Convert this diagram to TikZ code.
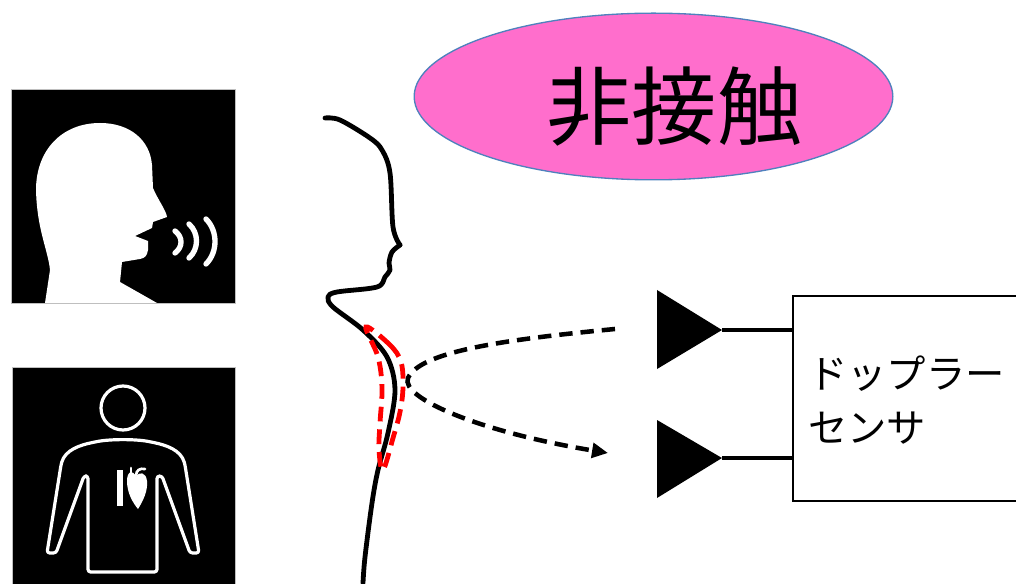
\documentclass[tikz,border=0pt]{standalone}
\usepackage{fontspec}
\newfontfamily\jpfont{Noto Sans CJK JP}
\usetikzlibrary{arrows.meta, shapes.geometric, positioning}
\definecolor{contactpink}{RGB}{255,110,204}
\definecolor{contactblue}{RGB}{79,129,189}

\begin{document}
\begin{tikzpicture}[x=0.75pt, y=-0.75pt,
    icon/.style={fill=black, draw=black!25, line width=0.5pt},
    outline/.style={draw=white, line width=2.4pt, line join=round, line cap=round},
    profile/.style={line width=3.6pt, line cap=round, line join=round},
    wave/.style={white, line width=4pt, line cap=round},
    beam/.style={line width=3.4pt, dash pattern=on 10pt off 6pt},
    jp/.style 2 args={font=\jpfont\fontsize{#1}{#2}\selectfont}]
    \useasboundingbox (0,0) rectangle (1016,584);

    % speaking head
    \filldraw[icon] (11,89) rectangle (235,303);
    \fill[white] (45,303) -- (50,270) .. controls (48,250) and (37,230) .. (36,190)
        .. controls (36,150) and (62,123) .. (100,123)
        .. controls (130,123) and (150,140) .. (152,165) -- (153,188)
        .. controls (158,200) and (166,210) .. (167,217) -- (153,222) -- (152,228)
        -- (135,236) -- (148,241) -- (148,250)
        .. controls (147,256) and (145,258) .. (140,259) -- (122,262)
        -- (120,282) -- (157,303) -- cycle;
    \draw[wave] (175,231) .. controls (183,237) and (183,247) .. (175,253);
    \draw[wave] (189,224) .. controls (199,233) and (199,249) .. (189,258);
    \draw[wave] (206,219) .. controls (218,231) and (218,252) .. (206,264);

    % body with heart
    \filldraw[icon] (12,367) rectangle (235,590);
    \draw[outline] (123,408) circle (16.5pt);
    \draw[outline, rounded corners=2pt] (88,572) -- (88,476) -- (84,476) -- (56,553) -- (47,553)
        -- (61,465) .. controls (65,450) and (80,445) .. (95,442)
        .. controls (110,439) and (136,439) .. (151,442)
        .. controls (166,445) and (181,450) .. (185,465)
        -- (199,553) -- (190,553) -- (162,476) -- (157,476) -- (157,572) -- cycle;
    \fill[white] (117,470) rectangle (123,506);
    \fill[white] (136,477) .. controls (133,469) and (127,471) .. (127,481)
        .. controls (127,493) and (133,503) .. (138,509)
        .. controls (143,501) and (148,491) .. (147,481)
        .. controls (146,472) and (139,471) .. (136,477) -- cycle;
    \draw[white, line width=2pt, line cap=round] (131,478) -- (131,468);
    \draw[white, line width=2pt, line cap=round] (136,476) .. controls (136,470) and (140,468) .. (145,469);

    % neck profile
    \draw[profile] plot[smooth, tension=0.55] coordinates {(325,118) (340,120) (370,138)
        (382,150) (390,173) (393,227) (400,245)};
    \draw[profile] plot[smooth, tension=0.55] coordinates {(400,245) (392,252) (389,263)
        (390,270) (385,277) (377,287) (337,292) (328,297) (333,307) (363,330)
        (387,357) (395,390) (388,433) (378,470) (372,503) (365,557) (363,583)};
    \draw[red, line width=3.6pt, dash pattern=on 11pt off 6pt] plot[smooth cycle, tension=0.6]
        coordinates {(366,327) (390,345) (401,362) (403,387) (400,412) (393,438)
        (383,470) (379,450) (380,423) (382,388) (378,357)};

    % doppler sensor
    \node[draw, line width=1.5pt, minimum width=172pt, minimum height=154pt,
        anchor=north west, inner sep=0] (sensor) at (792,295) {};
    \node[jp={29.5}{40.5}, anchor=west, align=left, inner sep=0] (sensorlabel) at (808,400)
        {ドップラー\\センサ};
    \coordinate (ant1) at (722,330);
    \coordinate (ant2) at (722,458);
    \fill (ant1) -- ++(-65,-40) -- ++(0,79) -- cycle;
    \fill (ant2) -- ++(-65,-38) -- ++(0,78) -- cycle;
    \draw[line width=3.4pt] (ant1) -- (ant1 -| sensor.west);
    \draw[line width=3.4pt] (ant2) -- (ant2 -| sensor.west);

    % radar beam
    \coordinate (neck) at (408,378);
    \coordinate (beamend) at (615,329);
    \coordinate (beamtip) at (608,453);
    \draw[beam, -{Triangle[length=12pt, width=11pt]}] (beamend)
        .. controls (500,340) and (420,352) .. (neck)
        .. controls (400,398) and (480,432) .. (beamtip);

    \node[ellipse, fill=contactpink, draw=contactblue, line width=1pt,
        minimum width=359pt, minimum height=125pt, inner sep=0] (contact) at (653.5,96.5) {};
    \node[jp={64}{70}] (contactlabel) at ([shift={(21,10)}]contact.center) {非接触};
\end{tikzpicture}
\end{document}
